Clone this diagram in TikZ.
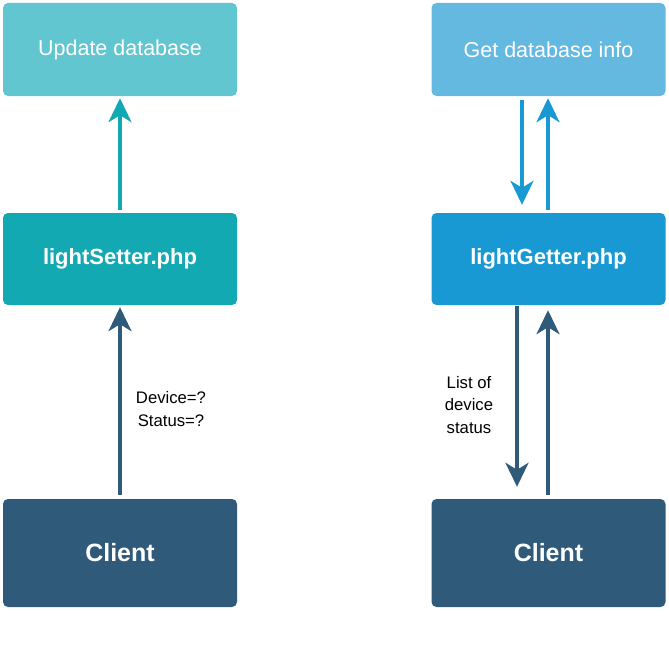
\documentclass[tikz,border=0pt]{standalone}
\usepackage{fontspec}
\setmainfont{Liberation Sans}
\usetikzlibrary{arrows.meta}
\definecolor{tealL}{HTML}{61C6CF}
\definecolor{tealD}{HTML}{13A9B3}
\definecolor{blueL}{HTML}{64B9E1}
\definecolor{blueD}{HTML}{1899D4}
\definecolor{navy}{HTML}{2F5A7A}
\tikzset{
  box/.style={rounded corners=5pt, inner sep=0pt, minimum width=234pt, text=white, font=\fontsize{21.5}{24}\selectfont},
  boldbox/.style={box, font=\fontsize{22}{24}\selectfont\bfseries},
  conn/.style={line width=3.5pt, -{Stealth[length=24pt, width=23pt, inset=7pt]}},
  lbl/.style={align=center, font=\fontsize{16.7}{22.5}\selectfont, text=black}
}
\begin{document}
\begin{tikzpicture}[x=1pt,y=-1pt]
\useasboundingbox (0,0) rectangle (669,669);
\node[box, fill=tealL, minimum height=93pt] (upd) at (120,49.5) {Update database};
\node[box, fill=blueL, minimum height=93pt] (get) at (548.5,49.5) {Get database info};
\node[boldbox, fill=tealD, minimum height=92pt] (set) at (120,259) {lightSetter.php};
\node[boldbox, fill=blueD, minimum height=92pt] (getter) at (548.5,259) {lightGetter.php};
\node[box, fill=navy, minimum height=108pt, font=\fontsize{25}{28}\selectfont\bfseries] (cl) at (120,553) {Client};
\node[box, fill=navy, minimum height=108pt, font=\fontsize{25}{28}\selectfont\bfseries] (cr) at (548.5,553) {Client};
% left
\draw[conn, tealD] ([yshift=3pt]set.north) -- ([yshift=-2pt]upd.south);
\draw[conn, navy] ([yshift=4pt]cl.north) -- ([yshift=-2pt]set.south);
\node[lbl] (lab1) at (171,409) {Device=?\\Status=?};
% right
\coordinate (x1) at (522,0);
\coordinate (x2) at (548,0);
\coordinate (x3) at (517,0);
\coordinate (g1) at (x1 |- get.south);
\coordinate (g2) at (x2 |- get.south);
\coordinate (t1) at (x1 |- getter.north);
\coordinate (t2) at (x2 |- getter.north);
\coordinate (b1) at (x3 |- getter.south);
\coordinate (b2) at (x2 |- getter.south);
\coordinate (c1) at (x3 |- cr.north);
\coordinate (c2) at (x2 |- cr.north);
\draw[conn, blueD] ([yshift=-4pt]g1) -- ([yshift=8pt]t1);
\draw[conn, blueD] ([yshift=3pt]t2) -- ([yshift=-2pt]g2);
\draw[conn, navy] ([yshift=-1pt]b1) -- ([yshift=12pt]c1);
\draw[conn, navy] ([yshift=4pt]c2) -- ([yshift=-5pt]b2);
\node[lbl] (lab2) at (469,405) {List of\\device\\status};
\end{tikzpicture}
\end{document}
